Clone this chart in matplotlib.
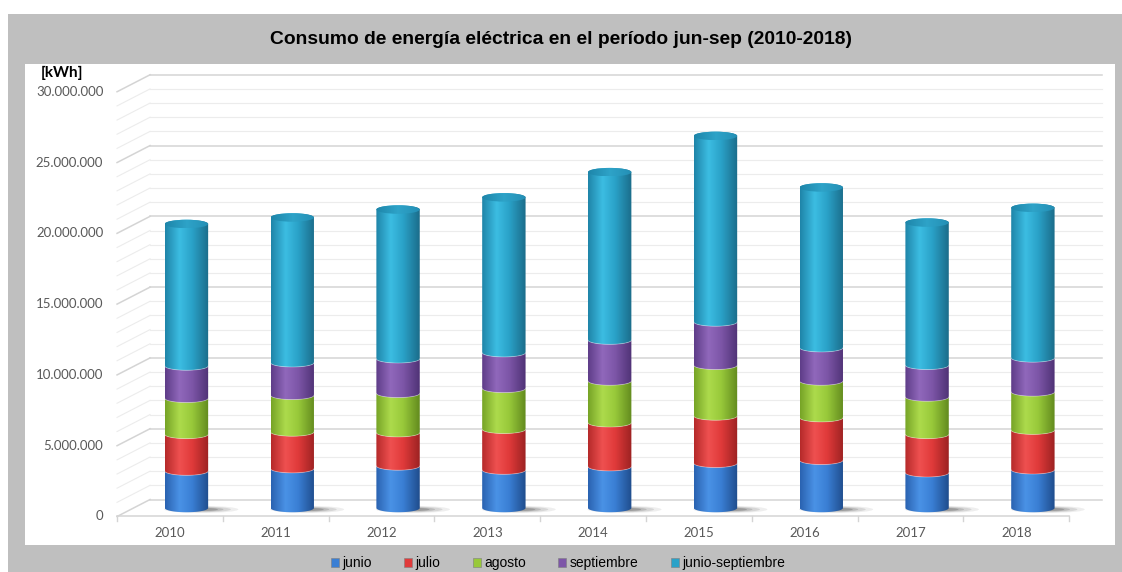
import numpy as np
import matplotlib
matplotlib.use("Agg")
import matplotlib.pyplot as plt
from matplotlib.patches import Rectangle, PathPatch, Patch, Ellipse
from matplotlib.path import Path
from matplotlib.colors import LinearSegmentedColormap

# -------------------------------------------------------------------
# DATA (kWh)
# -------------------------------------------------------------------
years = ["2010", "2011", "2012", "2013", "2014", "2015", "2016", "2017", "2018"]
junio = [2610000, 2780000, 2970000, 2680000, 2920000, 3160000, 3370000, 2490000, 2700000]
julio = [2590000, 2590000, 2350000, 2880000, 3100000, 3340000, 3010000, 2710000, 2800000]
agosto = [2550000, 2590000, 2780000, 2890000, 2950000, 3580000, 2590000, 2640000, 2700000]
septiembre = [2280000, 2300000, 2440000, 2520000, 2890000, 3060000, 2350000, 2240000, 2400000]
junio_septiembre = [10030000, 10260000, 10540000, 10970000, 11860000, 13140000, 11320000, 10080000, 10600000]

series_names = ["junio", "julio", "agosto", "septiembre", "junio-septiembre"]
series_values = [junio, julio, agosto, septiembre, junio_septiembre]
y_ticks = [0, 5000000, 10000000, 15000000, 20000000, 25000000, 30000000]

TITLE = "Consumo de energía eléctrica en el período jun-sep (2010-2018)"

# cylinder shading: (dark edge, highlight, mid, right edge)
SHADES = [
    ("#2a62b0", "#4a92e6", "#3a7fd4", "#1f4c8c"),
    ("#b52a2a", "#ef5050", "#e03a3a", "#9c2222"),
    ("#76a326", "#addb4c", "#98c93a", "#628a1e"),
    ("#5e3d88", "#9068bb", "#7d56a8", "#4f3275"),
    ("#1f84a8", "#3cbde2", "#2aa2c8", "#1b6c8a"),
]
LEGEND_COLORS = ["#3a7fd4", "#e03a3a", "#98c93a", "#7d56a8", "#2aa2c8"]

# -------------------------------------------------------------------
# GEOMETRY (oblique 3D look)
# -------------------------------------------------------------------
W, H = 1122, 572
BAR_W = 0.41          # cylinder width in category units
ELL_B = 0.30e6        # half height of the cylinder ellipses (data units)
DX = 0.156            # depth shift in x (category units)
DY = 0.60e6           # depth shift in y (data units)


def px_box(x0, y0, x1, y1):
    """pixel box (top-left origin) -> figure fraction rect"""
    return [x0 / W, 1 - y1 / H, (x1 - x0) / W, (y1 - y0) / H]


def segment_path(xc, y0, y1, top=False):
    a = BAR_W / 2
    t = np.linspace(np.pi, 2 * np.pi, 40)
    bottom = np.column_stack([xc + a * np.cos(t), y0 + ELL_B * np.sin(t)])
    if top:
        t2 = np.linspace(0, np.pi, 40)
        upper = np.column_stack([xc + a * np.cos(t2), y1 + ELL_B * np.sin(t2)])
    else:
        upper = np.column_stack([xc + a * np.cos(t[::-1]), y1 + ELL_B * np.sin(t[::-1])])
    verts = np.vstack([bottom, upper, bottom[:1]])
    codes = [Path.MOVETO] + [Path.LINETO] * (len(verts) - 2) + [Path.CLOSEPOLY]
    return Path(verts, codes)


def shaded(ax, path, shade, xc, y0, y1, z):
    patch = PathPatch(path, facecolor="none", edgecolor="none", zorder=z)
    ax.add_patch(patch)
    cmap = LinearSegmentedColormap.from_list(
        "cyl", [(0, shade[0]), (0.33, shade[1]), (0.62, shade[2]), (1, shade[3])])
    grad = np.linspace(0, 1, 128).reshape(1, -1)
    im = ax.imshow(grad, extent=[xc - BAR_W / 2, xc + BAR_W / 2, y0 - ELL_B * 1.2, y1 + ELL_B * 1.2],
                   aspect="auto", cmap=cmap, origin="lower", zorder=z, interpolation="bilinear")
    im.set_clip_path(patch)


fig = plt.figure(figsize=(W / 100, H / 100), dpi=100)
fig.patch.set_facecolor("white")

# grey chart frame and white plot panel (behind the axes)
fig.patches.append(Rectangle((8 / W, 0), 1 - 8 / W, 1 - 14 / H, transform=fig.transFigure,
                             facecolor="#bfbfbf", edgecolor="none", zorder=-2))
fig.patches.append(Rectangle((25 / W, 1 - 545 / H), (1115 - 25) / W, (545 - 64) / H,
                             transform=fig.transFigure, facecolor="white", edgecolor="none", zorder=-1))

fig.text(561 / W, 1 - 40 / H, TITLE, ha="center", va="center", fontsize=13.9,
         fontweight="bold", family="Liberation Sans", color="black")

ax = fig.add_axes(px_box(25, 64, 1115, 545))
ax.set_axis_off()
n = len(years)

# back wall gridlines + left side wall diagonals
for v in np.arange(0, 30000001, 1000000):
    major = v % 5000000 == 0
    col = "#d4d4d4" if major else "#ececec"
    lw = 1.1 if major else 0.8
    ax.plot([-0.5 + DX, n - 0.5 + DX], [v + DY, v + DY], color=col, lw=lw, zorder=1)
    ax.plot([-0.5 - DX, -0.5 + DX], [v - DY, v + DY], color=col, lw=lw, zorder=1)

# floor front edge and x ticks
ax.plot([-0.5 - DX, n - 0.5 - DX], [-DY, -DY], color="#d4d4d4", lw=1.1, zorder=1)
for b in np.arange(-0.5, n, 1.0):
    ax.plot([b - DX, b - DX], [-DY, -DY - 0.35e6], color="#d4d4d4", lw=1.0, zorder=1)

# y tick labels on the front plane
for v in y_ticks:
    lab = f"{v:,}".replace(",", ".")
    ax.text(-0.5 - DX - 0.13, v - DY, lab, ha="right", va="center", fontsize=9.5,
            family="Lato", color="#595959")
ax.text(-1.18, 30720000, "[kWh]", ha="center", va="center", fontsize=11,
        family="Lato", fontweight="bold", color="black")

# x labels on the front plane
for i, yr in enumerate(years):
    ax.text(i - DX, -DY - 0.75e6, yr, ha="center", va="top", fontsize=9.5,
            family="Lato", color="#595959")

# cylinders
for i in range(n):
    # soft base shadow, trailing to the right
    for k, al in zip([1.0, 0.8, 0.6, 0.45], [0.08, 0.12, 0.16, 0.22]):
        ax.add_patch(Ellipse((i + 0.14, -0.1e6), 0.7 * k, 0.5e6 * k,
                             facecolor="#303030", edgecolor="none", alpha=al, zorder=2))
    bottom = 0
    for s, vals in enumerate(series_values):
        top = bottom + vals[i]
        last = s == len(series_values) - 1
        shaded(ax, segment_path(i, bottom, top, top=last), SHADES[s], i, bottom, top, 3 + s)
        if not last:
            t = np.linspace(np.pi, 2 * np.pi, 40)
            ax.plot(i + BAR_W / 2 * np.cos(t), top + ELL_B * np.sin(t), color="white",
                    lw=0.6, alpha=0.35, zorder=9)
        bottom = top
    # top cap
    cap = Ellipse((i, bottom), BAR_W, 2 * ELL_B, facecolor="none", edgecolor="none", zorder=10)
    ax.add_patch(cap)
    cap_cmap = LinearSegmentedColormap.from_list("cap", ["#1e86aa", "#2ea3c8", "#248fb5"])
    im = ax.imshow(np.linspace(0, 1, 64).reshape(1, -1),
                   extent=[i - BAR_W / 2, i + BAR_W / 2, bottom - ELL_B, bottom + ELL_B],
                   aspect="auto", cmap=cap_cmap, origin="lower", zorder=10)
    im.set_clip_path(cap)

ax.set_xlim(-1.526, 8.776)
ax.set_ylim(-2.613e6, 31.36e6)

# legend in the grey band
handles = [Patch(facecolor=c, edgecolor="#7f7f7f", linewidth=0.4) for c in LEGEND_COLORS]
fig.legend(handles, series_names, loc="center", bbox_to_anchor=(558 / W, 1 - 563 / H),
           ncol=5, frameon=False, prop={"family": "Liberation Sans", "size": 10},
           handlelength=0.6, handleheight=0.6, handletextpad=0.25, columnspacing=2.3,
           borderpad=0, borderaxespad=0)

fig.savefig("out.png", dpi=100)
